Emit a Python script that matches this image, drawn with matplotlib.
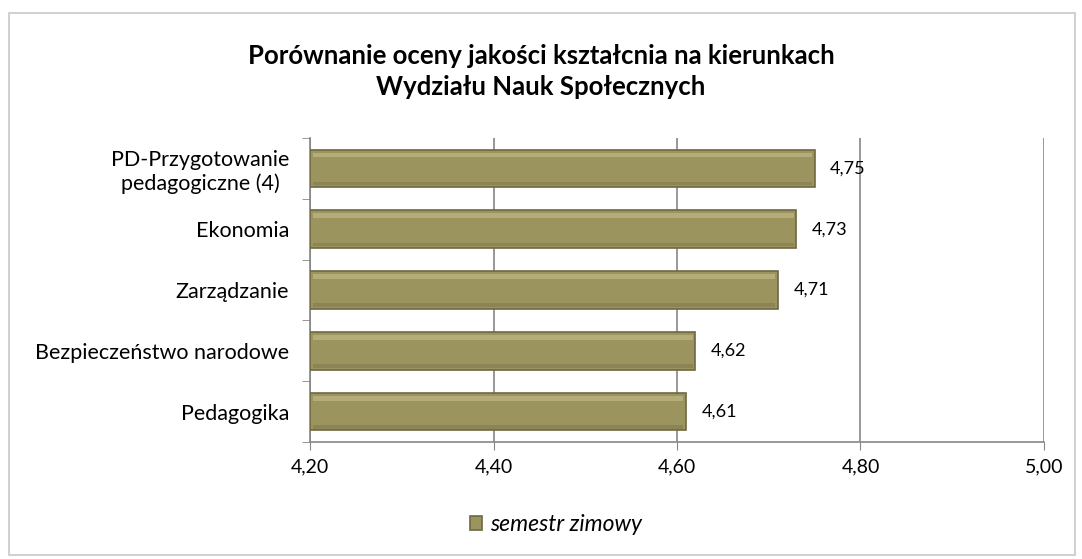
import numpy as np
import matplotlib.pyplot as plt
from matplotlib.patches import Rectangle

plt.rcParams['font.family'] = ['Lato', 'DejaVu Sans']

kierunki = ['Pedagogika', 'Bezpieczeństwo narodowe', 'Zarządzanie', 'Ekonomia',
            'PD-Przygotowanie\npedagogiczne (4)']
oceny = [4.61, 4.62, 4.71, 4.73, 4.75]
x_ticks = [4.20, 4.40, 4.60, 4.80, 5.00]
seria = 'semestr zimowy'

fig = plt.figure(figsize=(10.82, 5.59), dpi=100)
fig.patches.append(Rectangle((9 / 1082, 4 / 559), 1066 / 1082, 542 / 559,
                             transform=fig.transFigure, fill=False,
                             edgecolor='#c8c8c8', linewidth=1.2))

ax = fig.add_axes([310 / 1082, 117 / 559, 734 / 1082, 304 / 559])
y = np.arange(len(kierunki))
base = x_ticks[0]
widths = [v - base for v in oceny]

ax.barh(y, widths, left=base, height=0.62, color='#9c945f',
        edgecolor='#6e6842', linewidth=1.2, zorder=3, label=seria)
# soft bevel: lighter band at the top, darker band at the bottom
ax.barh(y + 0.22, [w - 0.006 for w in widths], left=base + 0.003, height=0.08,
        color='#e2dcaa', linewidth=0, alpha=0.35, zorder=4)
ax.barh(y - 0.25, [w - 0.006 for w in widths], left=base + 0.003, height=0.06,
        color='#5e5836', linewidth=0, alpha=0.25, zorder=4)

for yi, v in zip(y, oceny):
    ax.text(v + 0.017, yi, f'{v:.2f}'.replace('.', ','), va='center',
            ha='left', fontsize=13, zorder=5)

ax.set_xlim(x_ticks[0], x_ticks[-1])
ax.set_ylim(-0.5, len(kierunki) - 0.5)
ax.set_xticks(x_ticks)
ax.set_xticklabels([f'{t:.2f}'.replace('.', ',') for t in x_ticks], fontsize=14)
ax.set_yticks(y)
ax.set_yticklabels(kierunki, fontsize=15.5, ha='right', multialignment='center')
ax.set_yticks(np.arange(-0.5, len(kierunki), 1), minor=True)
ax.tick_params(axis='y', which='major', length=0, pad=15)
ax.tick_params(axis='y', which='minor', length=6, color='#868686')
ax.tick_params(axis='x', length=6, color='#868686', pad=6)
ax.grid(axis='x', color='#868686', linewidth=1.2, zorder=0)
for s in ['top', 'right']:
    ax.spines[s].set_visible(False)
for s in ['left', 'bottom']:
    ax.spines[s].set_color('#868686')
    ax.spines[s].set_linewidth(1.2)

fig.text(0.5, 0.872, 'Porównanie oceny jakości kształcnia na kierunkach\nWydziału Nauk Społecznych',
         ha='center', va='center', fontsize=18.5, fontweight='bold', linespacing=1.33)

leg = fig.legend(loc='center', bbox_to_anchor=(0.514, 0.062), frameon=False,
                 handlelength=0.55, handleheight=0.55, handletextpad=0.35,
                 prop={'style': 'italic', 'size': 16.5})

fig.savefig('out.png', dpi=100)
